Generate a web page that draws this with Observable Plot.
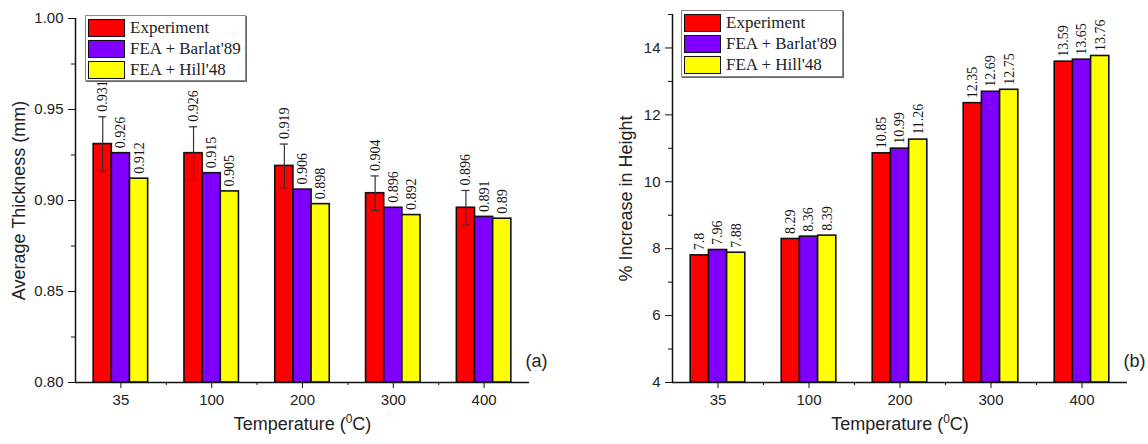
<!DOCTYPE html>
<html><head><meta charset="utf-8">
<script src="https://cdn.jsdelivr.net/npm/d3@7"></script>
<script src="https://cdn.jsdelivr.net/npm/@observablehq/plot@0.6"></script>
<style>
body{margin:0;background:#fff;}
#wrap{position:relative;width:1148px;height:444px;overflow:hidden;background:#fff;}
.panel{position:absolute;top:0;}
.legend{position:absolute;border:1px solid #8a8a8a;box-shadow:1px 1px 0 #666;background:#fff;padding:1px 2px;box-sizing:border-box;font-family:"Liberation Serif","Times New Roman",serif;font-size:17px;color:#222;}
.legend .row{display:flex;align-items:center;height:21px;}
.legend .sw{width:37px;height:18px;border:1.5px solid #111;margin-right:5px;box-sizing:border-box;flex:none;}
</style></head>
<body><div id="wrap"></div>
<script>
const temperatures = ["35", "100", "200", "300", "400"];
const seriesNames = ["Experiment", "FEA + Barlat'89", "FEA + Hill'48"];
const seriesColors = ["#ff0000", "#7f00ff", "#ffff00"];
const thicknessExperiment = [0.931, 0.926, 0.919, 0.904, 0.896];
const thicknessExperimentError = [0.015, 0.0145, 0.012, 0.0095, 0.0095];
const thicknessBarlat = [0.926, 0.915, 0.906, 0.896, 0.891];
const thicknessHill = [0.912, 0.905, 0.898, 0.892, 0.89];
const heightExperiment = [7.8, 8.29, 10.85, 12.35, 13.59];
const heightBarlat = [7.96, 8.36, 10.99, 12.69, 13.65];
const heightHill = [7.88, 8.39, 11.26, 12.75, 13.76];
const thicknessTicks = [0.80, 0.85, 0.90, 0.95, 1.00];
const thicknessMinorTicks = [0.825, 0.875, 0.925, 0.975];
const heightTicks = [4, 6, 8, 10, 12, 14];
const heightMinorTicks = [5, 7, 9, 11, 13, 15];
const xLabelParts = ["Temperature (", "0", "C)"];
const yLabelA = "Average Thickness (mm)";
const yLabelB = "% Increase in Height";

function buildRows(seriesValues, errors) {
  const rows = [];
  temperatures.forEach((t, i) => {
    seriesValues.forEach((vals, j) => {
      rows.push({i, temp: t, j, series: seriesNames[j], value: vals[i], err: (j === 0 && errors) ? errors[i] : 0});
    });
  });
  return rows;
}

const rowsA = buildRows([thicknessExperiment, thicknessBarlat, thicknessHill], thicknessExperimentError);
const rowsB = buildRows([heightExperiment, heightBarlat, heightHill], null);

function makePanel({rows, yDomain, ticks, minor, fmt, yLabel, yLabelDx, tag, marginLeft, marginRight, marginTop}) {
  const W = 0.2;
  const cx = d => d.i + 0.5 + (d.j - 1) * W;
  const errRows = rows.filter(d => d.err > 0);
  const xLabel = xLabelParts.join("");
  const svg = Plot.plot({
    width: 574, height: 444, marginLeft, marginRight, marginTop, marginBottom: 62,
    style: {fontFamily: "'Liberation Sans', Arial, sans-serif", fontSize: "15px", color: "#222", background: "transparent", overflow: "visible"},
    x: {domain: [0, temperatures.length]},
    y: {domain: yDomain},
    color: {domain: seriesNames, range: seriesColors},
    marks: [
      Plot.rectY(rows, {x1: d => cx(d) - W / 2, x2: d => cx(d) + W / 2, y1: d => yDomain[0], y2: "value", fill: "series", stroke: "#111", strokeWidth: 1.6}),
      Plot.ruleX(errRows, {x: cx, y1: d => d.value - d.err, y2: d => d.value + d.err, stroke: "#333", strokeWidth: 1.2}),
      Plot.ruleY(errRows, {y: d => d.value + d.err, x1: d => cx(d) - 0.045, x2: d => cx(d) + 0.045, stroke: "#333", strokeWidth: 1.2}),
      Plot.ruleY(errRows, {y: d => d.value - d.err, x1: d => cx(d) - 0.045, x2: d => cx(d) + 0.045, stroke: "#333", strokeWidth: 1.2}),
      Plot.text(rows, {x: cx, y: d => d.value + d.err, text: d => String(d.value), rotate: -90, textAnchor: "start", lineAnchor: "middle", dy: -5, fontFamily: "'Liberation Serif', 'Times New Roman', serif", fontSize: 14, fill: "#111"}),
      Plot.axisY(ticks, {tickSize: 7, tickPadding: 5, tickFormat: fmt, label: null, stroke: "#111"}),
      Plot.axisY(minor, {tickSize: 4, tickFormat: () => "", label: null, stroke: "#111"}),
      Plot.axisX(temperatures.map((t, i) => i + 0.5), {tickSize: 6, tickPadding: 6, tickFormat: v => temperatures[Math.floor(v)], label: null, stroke: "#111"}),
      Plot.axisX(d3.range(1, temperatures.length), {tickSize: 3, tickFormat: () => "", label: null, stroke: "#111"}),
      Plot.ruleX([0], {stroke: "#111", strokeWidth: 1.5}),
      Plot.ruleY([yDomain[0]], {stroke: "#111", strokeWidth: 1.5}),
      Plot.text([yLabel], {text: d => d, frameAnchor: "left", rotate: -90, dx: yLabelDx, fontSize: 18, textAnchor: "middle", fill: "#222"}),
      Plot.text([xLabel], {text: d => d, frameAnchor: "bottom", dy: 47, fontSize: 18, fill: "#222"}),
      Plot.text([tag], {text: d => d, frameAnchor: "bottom-right", textAnchor: "end", dx: 18, dy: -16, fontSize: 18, fill: "#222"})
    ]
  });
  svg.querySelectorAll("text").forEach(t => {
    if (t.textContent === xLabel) {
      t.textContent = "";
      const ns = "http://www.w3.org/2000/svg";
      const a = document.createElementNS(ns, "tspan"); a.textContent = xLabelParts[0];
      const b = document.createElementNS(ns, "tspan"); b.textContent = xLabelParts[1]; b.setAttribute("dy", "-7"); b.setAttribute("font-size", "12");
      const c = document.createElementNS(ns, "tspan"); c.textContent = xLabelParts[2]; c.setAttribute("dy", "7");
      t.append(a, b, c);
    }
  });
  return svg;
}

function makeLegend(left, top, width, height) {
  const div = document.createElement("div");
  div.className = "legend";
  Object.assign(div.style, {left: left + "px", top: top + "px", width: width + "px", height: height + "px"});
  seriesNames.forEach((name, j) => {
    const row = document.createElement("div");
    row.className = "row";
    const sw = document.createElement("div");
    sw.className = "sw";
    sw.style.background = seriesColors[j];
    const label = document.createElement("span");
    label.textContent = name;
    row.append(sw, label);
    div.append(row);
  });
  return div;
}

const wrap = document.getElementById("wrap");
const pa = makePanel({rows: rowsA, yDomain: [0.8, 1.0], ticks: thicknessTicks, minor: thicknessMinorTicks, fmt: d3.format(".2f"), yLabel: yLabelA, yLabelDx: -56, tag: "(a)", marginLeft: 75, marginRight: 45, marginTop: 18});
pa.classList.add("panel"); pa.style.left = "0px";
const pb = makePanel({rows: rowsB, yDomain: [4, 15], ticks: heightTicks, minor: heightMinorTicks, fmt: d3.format("d"), yLabel: yLabelB, yLabelDx: -46, tag: "(b)", marginLeft: 98, marginRight: 21, marginTop: 14});
pb.classList.add("panel"); pb.style.left = "574px";
wrap.append(pa, pb);
wrap.append(makeLegend(85, 15, 161, 66));
wrap.append(makeLegend(681, 10, 162, 67));
</script>
</body></html>
